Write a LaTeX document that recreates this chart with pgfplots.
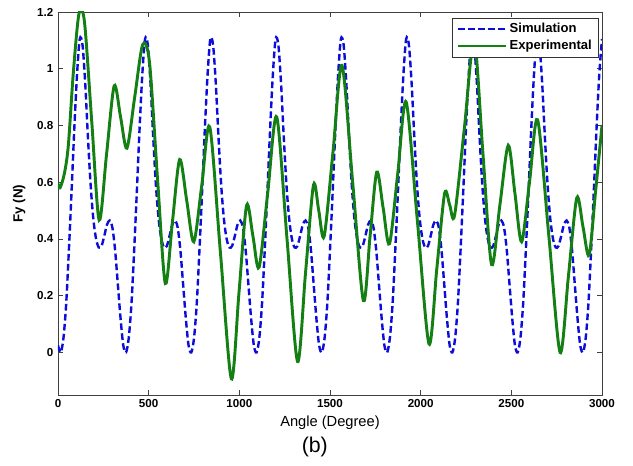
\documentclass[border=0pt]{standalone}
\usepackage{pgfplots}
\pgfplotsset{compat=1.18}
\usepackage{fontspec}
\setmainfont{Liberation Sans}
\definecolor{simblue}{rgb}{0.05,0.05,0.85}
\definecolor{expgreen}{rgb}{0.08,0.50,0.08}
\begin{document}
\begin{tikzpicture}
\begin{axis}[
  scale only axis,
  width=408pt, height=287.25pt,
  at={(0,0)}, anchor=south west,
  xmin=0, xmax=3000, ymin=-0.15, ymax=1.2,
  xtick={0,500,1000,1500,2000,2500,3000},
  ytick={0,0.2,0.4,0.6,0.8,1,1.2},
  tick align=inside,
  major tick length=3.75pt,
  every tick/.style={black!75, line width=0.5pt},
  axis line style={black!75, line width=0.6pt},
  /pgf/number format/assume math mode=true,
  /pgf/number format/.cd, fixed, precision=1, set thousands separator={}, /pgfplots/.cd,
  tick label style={font=\bfseries\fontsize{8.7}{10}\selectfont},
  xlabel={Angle (Degree)},
  ylabel={\bfseries Fy (N)},
  xlabel style={font=\fontsize{11}{13}\selectfont, at={(axis description cs:0.5,-0.073)}, anchor=center},
  ylabel style={font=\fontsize{10}{12}\selectfont, at={(axis description cs:-0.0715,0.5)}, anchor=center},
  legend cell align=left,
  legend style={at={(rel axis cs:0.994,0.984)}, anchor=north east, draw=black!80, fill=white,
    font=\bfseries\fontsize{9.8}{11}\selectfont, inner xsep=3pt, inner ysep=1.8pt, row sep=0pt},
  legend image code/.code={\draw[#1] (0cm,0cm) -- (1.25cm,0cm);},
]
\addplot[simblue, line width=1.8pt, dash pattern=on 5pt off 2.5pt, smooth] coordinates {
(0,0.025)(15,0)(30,0.05)(45,0.17)(60,0.36)(75,0.57)(90,0.79)(105,0.98)(120,1.105)(135,1.085)(150,0.95)(165,0.76)(180,0.59)(195,0.47)(210,0.40)(225,0.37)(240,0.375)(255,0.41)(270,0.45)(285,0.465)(300,0.44)(315,0.36)(330,0.24)(345,0.12)
(360,0.025)(375,0)(390,0.05)(405,0.17)(420,0.36)(435,0.57)(450,0.79)(465,0.98)(480,1.105)(495,1.085)(510,0.95)(525,0.76)(540,0.59)(555,0.47)(570,0.40)(585,0.37)(600,0.375)(615,0.41)(630,0.45)(645,0.465)(660,0.44)(675,0.36)(690,0.24)(705,0.12)
(720,0.025)(735,0)(750,0.05)(765,0.17)(780,0.36)(795,0.57)(810,0.79)(825,0.98)(840,1.105)(855,1.085)(870,0.95)(885,0.76)(900,0.59)(915,0.47)(930,0.40)(945,0.37)(960,0.375)(975,0.41)(990,0.45)(1005,0.465)(1020,0.44)(1035,0.36)(1050,0.24)(1065,0.12)
(1080,0.025)(1095,0)(1110,0.05)(1125,0.17)(1140,0.36)(1155,0.57)(1170,0.79)(1185,0.98)(1200,1.105)(1215,1.085)(1230,0.95)(1245,0.76)(1260,0.59)(1275,0.47)(1290,0.40)(1305,0.37)(1320,0.375)(1335,0.41)(1350,0.45)(1365,0.465)(1380,0.44)(1395,0.36)(1410,0.24)(1425,0.12)
(1440,0.025)(1455,0)(1470,0.05)(1485,0.17)(1500,0.36)(1515,0.57)(1530,0.79)(1545,0.98)(1560,1.105)(1575,1.085)(1590,0.95)(1605,0.76)(1620,0.59)(1635,0.47)(1650,0.40)(1665,0.37)(1680,0.375)(1695,0.41)(1710,0.45)(1725,0.465)(1740,0.44)(1755,0.36)(1770,0.24)(1785,0.12)
(1800,0.025)(1815,0)(1830,0.05)(1845,0.17)(1860,0.36)(1875,0.57)(1890,0.79)(1905,0.98)(1920,1.105)(1935,1.085)(1950,0.95)(1965,0.76)(1980,0.59)(1995,0.47)(2010,0.40)(2025,0.37)(2040,0.375)(2055,0.41)(2070,0.45)(2085,0.465)(2100,0.44)(2115,0.36)(2130,0.24)(2145,0.12)
(2160,0.025)(2175,0)(2190,0.05)(2205,0.17)(2220,0.36)(2235,0.57)(2250,0.79)(2265,0.98)(2280,1.105)(2295,1.085)(2310,0.95)(2325,0.76)(2340,0.59)(2355,0.47)(2370,0.40)(2385,0.37)(2400,0.375)(2415,0.41)(2430,0.45)(2445,0.465)(2460,0.44)(2475,0.36)(2490,0.24)(2505,0.12)
(2520,0.025)(2535,0)(2550,0.05)(2565,0.17)(2580,0.36)(2595,0.57)(2610,0.79)(2625,0.98)(2640,1.105)(2655,1.085)(2670,0.95)(2685,0.76)(2700,0.59)(2715,0.47)(2730,0.40)(2745,0.37)(2760,0.375)(2775,0.41)(2790,0.45)(2805,0.465)(2820,0.44)(2835,0.36)(2850,0.24)(2865,0.12)
(2880,0.025)(2895,0)(2910,0.05)(2925,0.17)(2940,0.36)(2955,0.57)(2970,0.79)(2985,0.98)(3000,1.105)
};
\addlegendentry{Simulation}
\addplot[expgreen, line width=2.2pt, smooth] coordinates {
(0,0.595)(11,0.58)(35,0.63)(57,0.73)(85,0.99)(116,1.195)(146,1.165)(186,0.815)(227,0.466)(268,0.70)(310,0.94)(345,0.83)(380,0.72)(423,0.90)(467,1.085)(505,1.02)(550,0.60)(592,0.243)(631,0.46)(671,0.68)(710,0.535)(749,0.39)(793,0.59)(837,0.795)(896,0.35)(956,-0.093)(998,0.21)(1040,0.518)(1075,0.41)(1109,0.30)(1157,0.565)(1206,0.83)(1263,0.40)(1321,-0.032)(1365,0.28)(1409,0.59)(1438,0.50)(1468,0.41)(1517,0.71)(1566,1.012)(1625,0.60)(1684,0.183)(1721,0.41)(1758,0.636)(1793,0.51)(1828,0.383)(1874,0.633)(1920,0.883)(1983,0.456)(2046,0.03)(2089,0.295)(2132,0.56)(2160,0.52)(2187,0.483)(2241,0.79)(2295,1.10)(2343,0.705)(2391,0.31)(2437,0.52)(2483,0.73)(2520,0.56)(2557,0.39)(2601,0.605)(2645,0.82)(2707,0.41)(2769,0.0)(2815,0.27)(2861,0.545)(2895,0.444)(2929,0.343)(2965,0.57)(3000,0.80)
};
\addlegendentry{Experimental}
\end{axis}
\node[font=\fontsize{16}{18}\selectfont, anchor=center] at (192.6pt,-39pt) {(b)};
\pgfresetboundingbox
\path (-43.5pt,-53.25pt) rectangle (431.25pt,296.25pt);
\end{tikzpicture}
\end{document}
